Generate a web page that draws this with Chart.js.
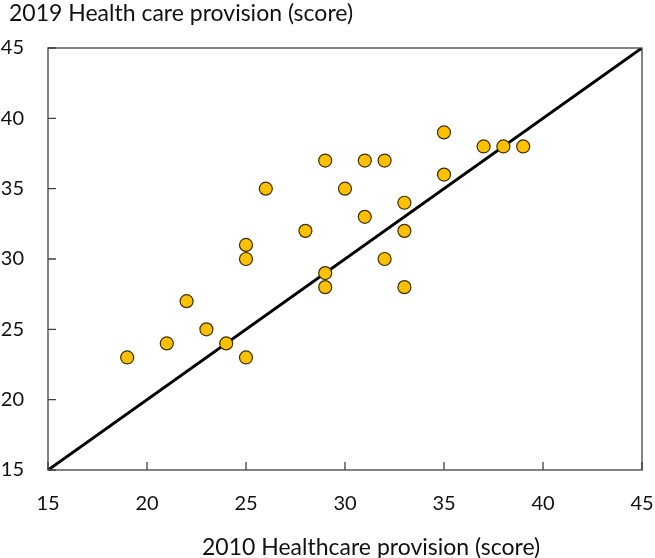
<!DOCTYPE html>
<html>
<head>
<meta charset="utf-8">
<script src="https://cdn.jsdelivr.net/npm/chart.js@4/dist/chart.umd.min.js"></script>
<style>
  body { margin: 0; background: #fff; }
  .wrap { position: relative; width: 655px; height: 558px; }
  .ytitle, .xtitle { position: absolute; font-family: Lato, sans-serif; font-size: 23px; line-height: 1; color: #111; white-space: nowrap; }
  .ytitle { left: 9px; top: 1px; }
  .xtitle { left: 202px; top: 535px; }
</style>
</head>
<body>
<div class="wrap">
  <canvas id="scatter" width="655" height="558"></canvas>
  <div class="ytitle">2019 Health care provision (score)</div>
  <div class="xtitle">2010 Healthcare provision (score)</div>
</div>
<script>
// scores for each country, 2010 vs 2019
const score2010 = [19, 21, 22, 23, 24, 25, 25, 25, 26, 28, 29, 29, 29, 30, 31, 31, 32, 32, 33, 33, 33, 35, 35, 37, 38, 39];
const score2019 = [23, 24, 27, 25, 24, 23, 30, 31, 35, 32, 37, 29, 28, 35, 37, 33, 37, 30, 34, 32, 28, 39, 36, 38, 38, 38];
const axisTicks = [15, 20, 25, 30, 35, 40, 45];
const equalLine = [15, 45];

const ctx = document.querySelector('#scatter');

// box round the plot and the short inner tick marks
const frameTicks = {
  id: 'frameTicks',
  afterDraw(chart) {
    const c = chart.ctx;
    const area = chart.chartArea;
    const xs = chart.scales.x;
    const ys = chart.scales.y;
    c.save();
    c.strokeStyle = '#404040';
    c.lineWidth = 1.3;
    c.strokeRect(area.left, area.top, area.right - area.left, area.bottom - area.top);
    c.beginPath();
    axisTicks.forEach((v) => {
      const px = xs.getPixelForValue(v);
      c.moveTo(px, area.bottom);
      c.lineTo(px, area.bottom - 8);
      const py = ys.getPixelForValue(v);
      c.moveTo(area.left, py);
      c.lineTo(area.left + 8, py);
    });
    c.stroke();
    c.restore();
  }
};

new Chart(ctx, {
  type: 'scatter',
  data: {
    datasets: [
      {
        type: 'line',
        data: equalLine.map((v) => ({ x: v, y: v })),
        borderColor: '#000',
        borderWidth: 3,
        pointRadius: 0,
        order: 2
      },
      {
        data: score2010.map((v, i) => ({ x: v, y: score2019[i] })),
        backgroundColor: '#FFC000',
        borderColor: '#3b2f00',
        borderWidth: 1.2,
        pointRadius: 6.5,
        order: 1
      }
    ]
  },
  options: {
    responsive: false,
    animation: false,
    layout: { padding: { left: 0, right: 13, top: 48, bottom: 0 } },
    plugins: { legend: { display: false }, tooltip: { enabled: false } },
    scales: {
      x: {
        min: 15, max: 45,
        afterFit: (scale) => { scale.height = 88; scale.paddingRight = 0; scale.paddingLeft = 0; },
        afterBuildTicks: (scale) => { scale.ticks = axisTicks.map((v) => ({ value: v })); },
        grid: { display: false, drawTicks: false },
        border: { display: false },
        ticks: { padding: 22, color: '#111', font: { family: 'Lato', size: 20 } }
      },
      y: {
        min: 15, max: 45,
        afterFit: (scale) => { scale.width = 48; scale.paddingTop = 0; scale.paddingBottom = 0; },
        afterBuildTicks: (scale) => { scale.ticks = axisTicks.map((v) => ({ value: v })); },
        grid: { display: false, drawTicks: false },
        border: { display: false },
        ticks: { padding: 24, color: '#111', font: { family: 'Lato', size: 20 } }
      }
    }
  },
  plugins: [frameTicks]
});
</script>
</body>
</html>
